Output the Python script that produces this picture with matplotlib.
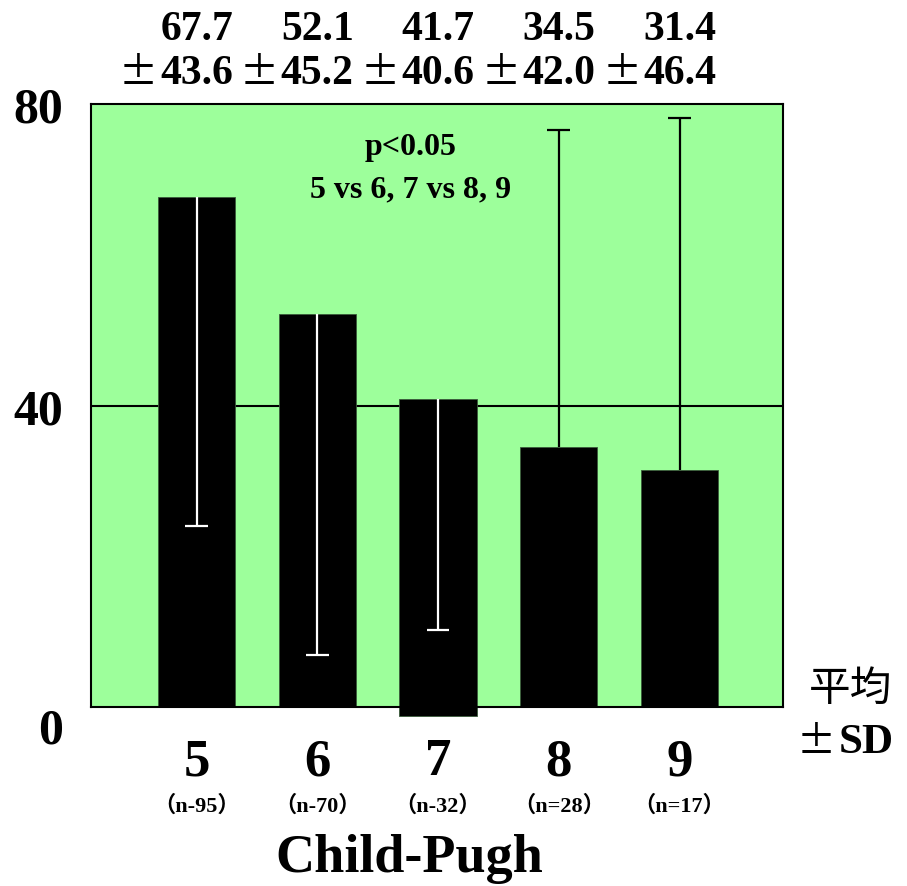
import matplotlib
matplotlib.use("Agg")
import matplotlib.pyplot as plt

# data
scores = ["5", "6", "7", "8", "9"]
counts = ["(n-95)", "(n-70)", "(n-32)", "(n=28)", "(n=17)"]
means = [67.7, 52.1, 41.7, 34.5, 31.4]
sds = [43.6, 45.2, 40.6, 42.0, 46.4]
# bars as they are drawn in the picture (bar 7 sits a little low)
bar_tops = [67.7, 52.1, 40.9, 34.5, 31.4]
bar_bottoms = [0, 0, -1.2, 0, 0]
# whisker ends as drawn: first three go down, last two go up
whisker_ends = [24.0, 6.9, 10.2, 76.5, 78.1]
err_colors = ["white", "white", "white", "black", "black"]

serif = "Liberation Serif"
cjk = "Noto Sans CJK JP"
green = "#9dff9b"

fig = plt.figure(figsize=(9.07, 8.87), dpi=100)
ax = fig.add_axes([0.1003, 0.2018, 0.763, 0.6798])
ax.set_facecolor(green)

x = list(range(len(scores)))
heights = [t - b for t, b in zip(bar_tops, bar_bottoms)]
ax.axhline(40, color="black", lw=1.5, zorder=1)
ax.bar(x, heights, bottom=bar_bottoms, width=0.638, color="black",
       edgecolor="#3a5a3a", linewidth=0.6, zorder=2, clip_on=False)

# one-sided whiskers with a cap only at the far end
cap = 0.095
ax.vlines(x, bar_tops, whisker_ends, colors=err_colors, lw=1.6, zorder=3)
ax.hlines(whisker_ends, [i - cap for i in x], [i + cap for i in x],
          colors=err_colors, lw=1.6, zorder=3)

ax.set_xlim(-0.874, 4.857)
ax.set_ylim(0, 80)
ax.set_xticks([])
ax.set_yticks([0, 40, 80])
ax.set_yticklabels(["0", "40", "80"], fontfamily=serif, fontweight="bold",
                   fontsize=36)
ax.tick_params(axis="y", length=0, pad=20)
ax.get_yticklabels()[0].set_va("top")
for s in ax.spines.values():
    s.set_linewidth(1.5)

# mean and SD labels above the plot
for i in x:
    ax.text(i, 90.0, f"{means[i]:.1f}", ha="center", va="center",
            fontfamily=serif, fontweight="bold", fontsize=30, clip_on=False)
    ax.text(i - 0.48, 84.1, "±", ha="center", va="center",
            fontfamily=cjk, fontsize=28, clip_on=False)
    ax.text(i, 84.1, f"{sds[i]:.1f}", ha="center", va="center",
            fontfamily=serif, fontweight="bold", fontsize=30, clip_on=False)
    # category labels below
    ax.text(i, -7.2, scores[i], ha="center", va="center",
            fontfamily=serif, fontweight="bold", fontsize=38, clip_on=False)
    ax.text(i, -13.0, counts[i].replace("(", "（").replace(")", "）"),
            ha="center", va="center", family=[serif, cjk],
            fontweight="bold", fontsize=16, clip_on=False)

ax.text(1.76, -20.0, "Child-Pugh", ha="center", va="center",
        fontfamily=serif, fontweight="bold", fontsize=39, clip_on=False)

ax.text(1.77, 74.3, "p<0.05", ha="center", va="center",
        fontfamily=serif, fontweight="bold", fontsize=23)
ax.text(1.77, 68.7, "5 vs 6, 7 vs 8, 9", ha="center", va="center",
        fontfamily=serif, fontweight="bold", fontsize=23)

ax.text(5.42, 2.4, "平均", ha="center", va="center",
        fontfamily=cjk, fontsize=30, clip_on=False)
ax.text(5.13, -4.6, "±", ha="center", va="center",
        fontfamily=cjk, fontsize=28, clip_on=False)
ax.text(5.55, -4.6, "SD", ha="center", va="center",
        fontfamily=serif, fontweight="bold", fontsize=31, clip_on=False)

fig.savefig("out.png", dpi=100)
